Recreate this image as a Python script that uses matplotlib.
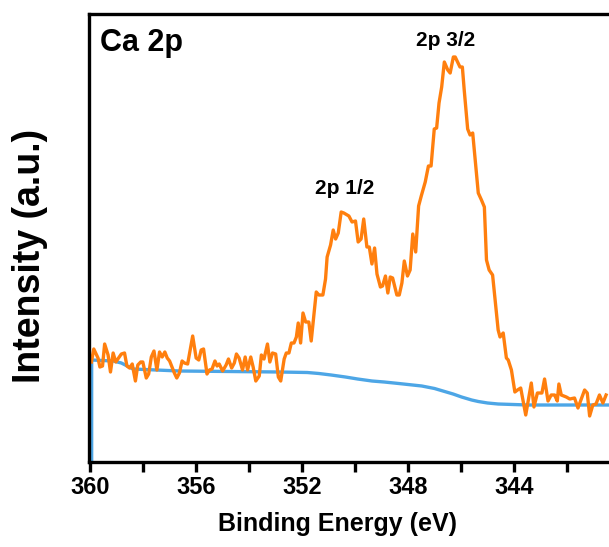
import matplotlib
matplotlib.use('Agg')
import matplotlib.pyplot as plt

# Ca 2p XPS spectrum (arbitrary intensity units)
energy = [359.94, 359.85, 359.69, 359.62, 359.52, 359.44, 359.31, 359.22, 359.12, 359.02,
          358.94, 358.81, 358.69, 358.60, 358.50, 358.40, 358.28, 358.19, 358.08, 358.00,
          357.87, 357.78, 357.68, 357.58, 357.47, 357.37, 357.27, 357.17, 357.08, 356.99,
          356.81, 356.72, 356.62, 356.52, 356.43, 356.31, 356.12, 355.99, 355.89, 355.80,
          355.71, 355.58, 355.49, 355.39, 355.28, 355.20, 355.12, 354.99, 354.86, 354.77,
          354.65, 354.55, 354.47, 354.37, 354.24, 354.14, 354.05, 353.93, 353.84, 353.74,
          353.61, 353.53, 353.43, 353.30, 353.21, 353.11, 352.99, 352.89, 352.80, 352.67,
          352.59, 352.49, 352.40, 352.30, 352.21, 352.14, 352.05, 351.96, 351.86, 351.74,
          351.65, 351.46, 351.36, 351.21, 351.11, 351.05, 350.92, 350.82, 350.73, 350.63,
          350.52, 350.42, 350.23, 350.11, 349.98, 349.88, 349.77, 349.67, 349.55, 349.46,
          349.36, 349.26, 349.17, 349.04, 348.96, 348.85, 348.76, 348.67, 348.58, 348.42,
          348.33, 348.23, 348.14, 348.02, 347.92, 347.82, 347.71, 347.60, 347.50, 347.35,
          347.23, 347.13, 347.01, 346.92, 346.83, 346.73, 346.63, 346.50, 346.41, 346.29,
          346.22, 346.13, 346.04, 345.95, 345.88, 345.75, 345.66, 345.56, 345.35, 345.23,
          345.12, 345.04, 344.94, 344.81, 344.60, 344.53, 344.41, 344.29, 344.22, 344.10,
          343.97, 343.87, 343.75, 343.56, 343.35, 343.25, 343.12, 342.95, 342.85, 342.72,
          342.60, 342.47, 342.37, 342.31, 342.22, 342.03, 341.90, 341.72, 341.59, 341.34,
          341.24, 341.15, 341.03, 340.91, 340.78, 340.65, 340.53]
intensity = [100, 113, 104, 95, 96, 118, 107, 90, 109, 100,
             103, 108, 109, 96, 94, 98, 81, 97, 100, 100,
             84, 88, 105, 111, 92, 110, 105, 110, 104, 101,
             89, 84, 89, 101, 99, 98, 126, 104, 102, 112,
             113, 88, 92, 93, 101, 96, 98, 91, 97, 103,
             94, 99, 108, 104, 92, 105, 92, 105, 95, 81,
             86, 107, 103, 118, 100, 109, 108, 85, 81, 103,
             109, 109, 119, 119, 125, 139, 119, 149, 140, 140,
             121, 170, 167, 167, 183, 205, 217, 232, 223, 229,
             250, 249, 246, 240, 241, 220, 223, 243, 215, 215,
             198, 214, 188, 175, 176, 186, 169, 185, 184, 167,
             167, 179, 201, 186, 192, 228, 210, 256, 266, 280,
             296, 296, 333, 334, 359, 375, 400, 392, 389, 405,
             405, 400, 395, 395, 372, 333, 327, 329, 269, 262,
             255, 202, 192, 187, 132, 125, 129, 104, 102, 92,
             70, 72, 74, 47, 79, 55, 69, 69, 83, 61,
             67, 67, 61, 78, 67, 65, 63, 64, 54, 72,
             69, 46, 57, 58, 67, 59, 67]

# Shirley-type background, including the vertical drop at 360 eV
bg_energy = [359.93, 359.93, 359.12, 358.81, 358.37, 356.62, 352.86, 351.80, 351.36, 350.90,
             350.36, 349.90, 349.36, 348.90, 348.35, 347.48, 347.00, 346.30, 345.98, 345.60,
             345.35, 345.00, 344.60, 343.47, 340.84, 340.40]
bg_intensity = [0, 102, 101, 99, 93, 91, 90, 89.5, 88.5, 87,
                85, 83, 81, 80, 78.5, 76, 73.5, 68, 65, 62,
                60.5, 59, 58, 57, 57, 57]

tick_pos = [360, 358, 356, 354, 352, 350, 348, 346, 344, 342]
tick_labels = ['360', '', '356', '', '352', '', '348', '', '344', '']

plt.rcParams['font.family'] = ['Liberation Sans', 'DejaVu Sans']
plt.rcParams['font.weight'] = 'bold'

fig = plt.figure(figsize=(6.09, 5.47), dpi=100)
ax = fig.add_axes([89 / 609, 85 / 547, 520 / 609, 448 / 547])

ax.plot(bg_energy, bg_intensity, color='#4da6e6', linewidth=2.4)
ax.plot(energy, intensity, color='#ff7f0e', linewidth=2.4)

ax.set_xlim(360.03, 340.42)
ax.set_ylim(0, 448)

ax.set_xticks(tick_pos)
ax.set_xticklabels(tick_labels, fontsize=17, fontweight='bold')
ax.set_yticks([])
ax.tick_params(axis='x', direction='out', length=7, width=2.4, pad=3)

for side in ['left', 'bottom', 'top']:
    ax.spines[side].set_linewidth(2.4)
ax.spines['right'].set_visible(False)

ax.set_xlabel('Binding Energy (eV)', fontsize=18, fontweight='bold')
ax.xaxis.set_label_coords(0.478, -0.112)
ax.set_ylabel('Intensity (a.u.)', fontsize=27, fontweight='bold')
ax.yaxis.set_label_coords(-0.079, 0.46)

ax.text(0.022, 0.935, 'Ca 2p', transform=ax.transAxes, fontsize=22,
        fontweight='bold', ha='left', va='center')
ax.text(346.59, 422, '2p 3/2', fontsize=15, fontweight='bold', ha='center', va='center')
ax.text(350.39, 273, '2p 1/2', fontsize=15, fontweight='bold', ha='center', va='center')

fig.savefig('out.png', dpi=100)
